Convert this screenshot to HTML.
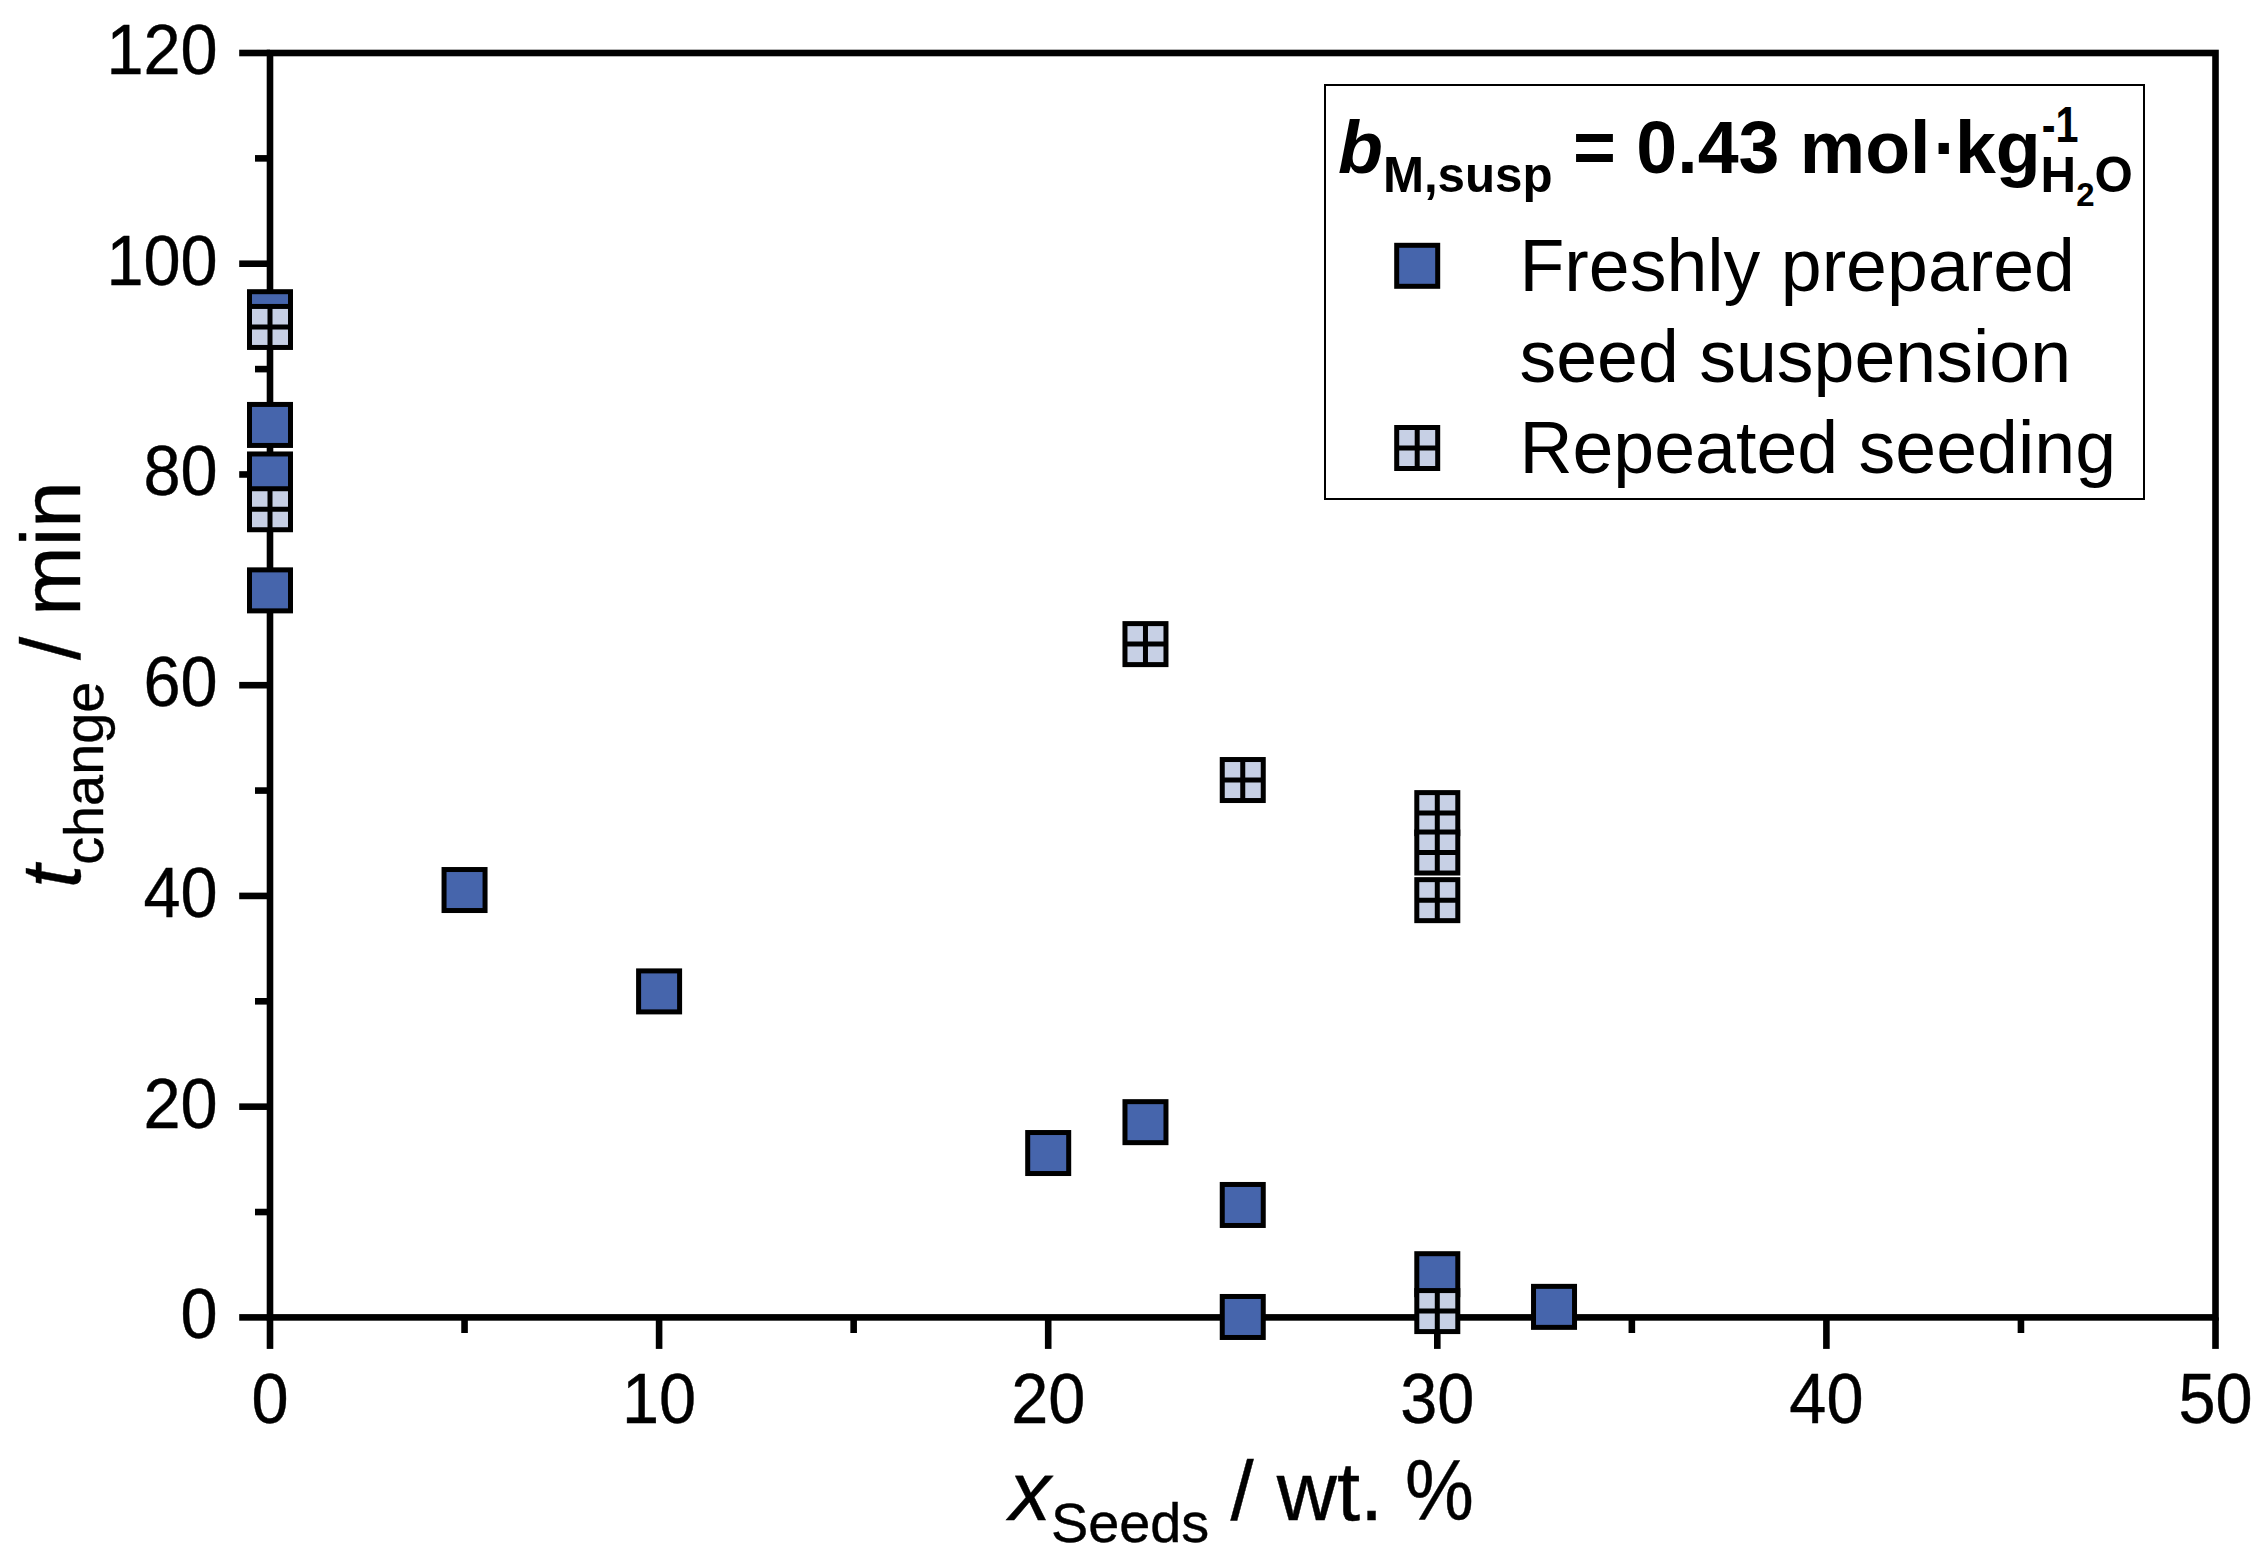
<!DOCTYPE html>
<html lang="en"><head><meta charset="utf-8"><title>t_change vs x_Seeds</title>
<style>
html,body{margin:0;padding:0;background:#fff;}
body{width:2267px;height:1566px;overflow:hidden;}
svg{display:block;}
text{font-family:"Liberation Sans",sans-serif;fill:#000;font-kerning:none;}
.tk{font-size:66.67px;stroke:#000;stroke-width:0.4px;}
.at{font-size:83.33px;stroke:#000;stroke-width:0.4px;}
.lg{font-size:73.50px;}
.ax{stroke:#000;stroke-width:6.60;fill:none;stroke-linecap:butt;}
.md{fill:#4665ac;stroke:#000;stroke-width:5.00;}
.ml{fill:#c7d0e5;stroke:#000;stroke-width:5.00;}
.mc{stroke:#000;stroke-width:5.00;fill:none;}
</style></head><body>
<svg width="2267" height="1566" viewBox="0 0 2267 1566">
<rect x="0" y="0" width="2267" height="1566" fill="#fff"/>
<g class="ax">
<rect x="270.00" y="53.00" width="1945.50" height="1264.40"/>
<line x1="239.20" y1="1317.40" x2="270.00" y2="1317.40"/>
<line x1="255.00" y1="1212.03" x2="270.00" y2="1212.03"/>
<line x1="239.20" y1="1106.67" x2="270.00" y2="1106.67"/>
<line x1="255.00" y1="1001.30" x2="270.00" y2="1001.30"/>
<line x1="239.20" y1="895.93" x2="270.00" y2="895.93"/>
<line x1="255.00" y1="790.57" x2="270.00" y2="790.57"/>
<line x1="239.20" y1="685.20" x2="270.00" y2="685.20"/>
<line x1="255.00" y1="579.83" x2="270.00" y2="579.83"/>
<line x1="239.20" y1="474.47" x2="270.00" y2="474.47"/>
<line x1="255.00" y1="369.10" x2="270.00" y2="369.10"/>
<line x1="239.20" y1="263.73" x2="270.00" y2="263.73"/>
<line x1="255.00" y1="158.37" x2="270.00" y2="158.37"/>
<line x1="239.20" y1="53.00" x2="270.00" y2="53.00"/>
<line x1="270.00" y1="1317.40" x2="270.00" y2="1348.90"/>
<line x1="464.55" y1="1317.40" x2="464.55" y2="1333.00"/>
<line x1="659.10" y1="1317.40" x2="659.10" y2="1348.90"/>
<line x1="853.65" y1="1317.40" x2="853.65" y2="1333.00"/>
<line x1="1048.20" y1="1317.40" x2="1048.20" y2="1348.90"/>
<line x1="1242.75" y1="1317.40" x2="1242.75" y2="1333.00"/>
<line x1="1437.30" y1="1317.40" x2="1437.30" y2="1348.90"/>
<line x1="1631.85" y1="1317.40" x2="1631.85" y2="1333.00"/>
<line x1="1826.40" y1="1317.40" x2="1826.40" y2="1348.90"/>
<line x1="2020.95" y1="1317.40" x2="2020.95" y2="1333.00"/>
<line x1="2215.50" y1="1317.40" x2="2215.50" y2="1348.90"/>
</g>
<g class="tk" text-anchor="end">
<text transform="translate(217.60 1338.30) scale(1 1.045)">0</text>
<text transform="translate(217.60 1127.57) scale(1 1.045)">20</text>
<text transform="translate(217.60 916.83) scale(1 1.045)">40</text>
<text transform="translate(217.60 706.10) scale(1 1.045)">60</text>
<text transform="translate(217.60 495.37) scale(1 1.045)">80</text>
<text transform="translate(217.60 284.63) scale(1 1.045)">100</text>
<text transform="translate(217.60 73.90) scale(1 1.045)">120</text>
</g>
<g class="tk" text-anchor="middle">
<text transform="translate(270.00 1422.60) scale(1 1.045)">0</text>
<text transform="translate(659.10 1422.60) scale(1 1.045)">10</text>
<text transform="translate(1048.20 1422.60) scale(1 1.045)">20</text>
<text transform="translate(1437.30 1422.60) scale(1 1.045)">30</text>
<text transform="translate(1826.40 1422.60) scale(1 1.045)">40</text>
<text transform="translate(2215.50 1422.60) scale(1 1.045)">50</text>
</g>
<text class="at" x="1009.3" y="1519.6"><tspan font-style="italic">x</tspan><tspan style="font-size:55.83px" dy="22.8">Seeds</tspan><tspan dy="-22.8" dx="-2"> / wt.</tspan></text>
<text class="at" transform="translate(1405 1519.6) scale(0.93 1.03)">%</text>
<text class="at" transform="translate(80.4 888) rotate(-90)"><tspan font-style="italic">t</tspan><tspan style="font-size:55.83px" dy="22.6">change</tspan><tspan dy="-22.6" dx="-1.5"> / </tspan><tspan dx="-2">min</tspan></text>
<g>
<rect class="md" x="249.50" y="291.70" width="41.00" height="41.00"/>
<rect class="md" x="249.50" y="404.44" width="41.00" height="41.00"/>
<rect class="md" x="249.50" y="453.97" width="41.00" height="41.00"/>
<rect class="md" x="249.50" y="569.87" width="41.00" height="41.00"/>
<rect class="md" x="444.05" y="869.53" width="41.00" height="41.00"/>
<rect class="md" x="638.60" y="970.90" width="41.00" height="41.00"/>
<rect class="md" x="1027.70" y="1132.53" width="41.00" height="41.00"/>
<rect class="md" x="1124.97" y="1101.66" width="41.00" height="41.00"/>
<rect class="md" x="1222.25" y="1184.47" width="41.00" height="41.00"/>
<rect class="md" x="1222.25" y="1296.48" width="41.00" height="41.00"/>
<rect class="md" x="1416.80" y="1253.70" width="41.00" height="41.00"/>
<rect class="md" x="1533.53" y="1286.36" width="41.00" height="41.00"/>
</g><g>
<rect class="ml" x="249.50" y="306.45" width="41.00" height="41.00"/>
<path class="mc" d="M249.50 326.95H290.50M270.00 306.45V347.45"/>
<rect class="ml" x="249.50" y="488.74" width="41.00" height="41.00"/>
<path class="mc" d="M249.50 509.24H290.50M270.00 488.74V529.74"/>
<rect class="ml" x="1124.97" y="623.61" width="41.00" height="41.00"/>
<path class="mc" d="M1124.97 644.11H1165.97M1145.47 623.61V664.61"/>
<rect class="ml" x="1222.25" y="759.53" width="41.00" height="41.00"/>
<path class="mc" d="M1222.25 780.03H1263.25M1242.75 759.53V800.53"/>
<rect class="ml" x="1416.80" y="792.62" width="41.00" height="41.00"/>
<path class="mc" d="M1416.80 813.12H1457.80M1437.30 792.62V833.62"/>
<rect class="ml" x="1416.80" y="832.02" width="41.00" height="41.00"/>
<path class="mc" d="M1416.80 852.52H1457.80M1437.30 832.02V873.02"/>
<rect class="ml" x="1416.80" y="879.65" width="41.00" height="41.00"/>
<path class="mc" d="M1416.80 900.15H1457.80M1437.30 879.65V920.65"/>
<rect class="ml" x="1416.80" y="1290.58" width="41.00" height="41.00"/>
<path class="mc" d="M1416.80 1311.08H1457.80M1437.30 1290.58V1331.58"/>
</g>
<rect x="1325.00" y="85.00" width="819.00" height="414.00" fill="#fff" stroke="#000" stroke-width="2"/>
<text class="lg" font-weight="bold" x="1338.0" y="172.70"><tspan font-style="italic">b</tspan><tspan style="font-size:49.25px" dy="19.4">M,susp</tspan><tspan dy="-19.4"> = 0.43 mol</tspan><tspan dx="3">·</tspan><tspan dx="-3">kg</tspan></text>
<text class="lg" font-weight="bold" style="font-size:49.25px" transform="translate(2041.7 142.30) scale(0.84 1.02)">-1</text>
<text class="lg" font-weight="bold" style="font-size:49.25px" x="2040.6" y="192.30">H<tspan style="font-size:32.99px" dy="13.9">2</tspan><tspan dy="-13.9">O</tspan></text>
<rect class="md" x="1396.70" y="245.30" width="41.00" height="41.00"/>
<rect class="ml" x="1396.70" y="427.50" width="41.00" height="41.00"/>
<path class="mc" d="M1396.70 448.00H1437.70M1417.20 427.50V468.50"/>
<text class="lg" x="1519.4" y="291.0">Freshly prepared</text>
<text class="lg" x="1519.4" y="382.1">seed suspension</text>
<text class="lg" x="1519.4" y="473.2">Repeated seeding</text>
</svg>
</body></html>
